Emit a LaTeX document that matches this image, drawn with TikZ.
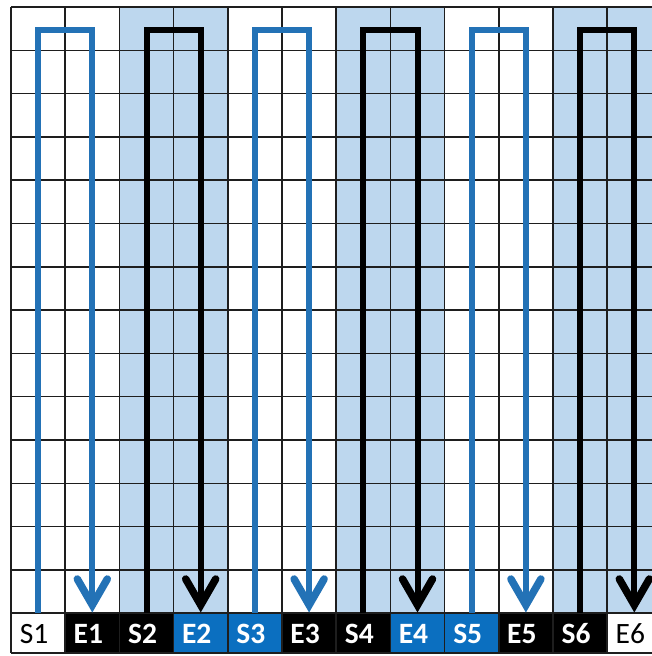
\documentclass[tikz,border=0pt]{standalone}
\usepackage{fontspec}
\setmainfont{Carlito}
\definecolor{arrblue}{HTML}{2372B6}
\definecolor{cellblue}{HTML}{0B6FC0}
\definecolor{shadeblue}{HTML}{BDD7EE}
\definecolor{gridc}{HTML}{1E1E1E}
\begin{document}
\begin{tikzpicture}[x=1pt,y=-1pt,
  gridline/.style={draw=gridc,line width=1.5},
  pathline/.style={line width=6,line join=miter},
  headline/.style={line width=7.5,line cap=round,line join=miter},
  labeltext/.style={anchor=base,inner sep=0pt,font=\fontsize{29.5}{32}\selectfont}]
\useasboundingbox (0,0) rectangle (652,656);
\clip (0,0) rectangle (652,656);
\fill[white] (0,0) rectangle (652,656);
% shaded column pairs
\foreach \c in {2,6,10}
  \fill[shadeblue] ({11+54.2*\c},7) rectangle ({11+54.2*(\c+2)},613);
% label row cells
\foreach \i/\bg in {0/white,1/black,2/black,3/cellblue,4/cellblue,5/black,6/black,7/cellblue,8/cellblue,9/black,10/black,11/white}
  \fill[\bg] ({11+54.2*\i},613) rectangle ({11+54.2*(\i+1)},653);
% grid
\foreach \i in {0,...,12}
  \draw[gridline] ({11+54.2*\i},7) -- ({11+54.2*\i},653);
\foreach \j in {0,...,14}
  \draw[gridline] (11,{7+43.3*\j}) -- (661,{7+43.3*\j});
\draw[gridline] (11,653) -- (661,653);
% labels
\foreach \i/\t/\fg/\w in {0/S1/black/\mdseries,1/E1/white/\bfseries,2/S2/white/\bfseries,3/E2/white/\bfseries,4/S3/white/\bfseries,5/E3/white/\bfseries,6/S4/white/\bfseries,7/E4/white/\bfseries,8/S5/white/\bfseries,9/E5/white/\bfseries,10/S6/white/\bfseries,11/E6/black/\mdseries}
  \node[labeltext,text=\fg] (lab\i) at ({11+54.2*\i+27.1-4},643) {\w\t};
% arrows
\foreach \k/\col in {0/arrblue,1/black,2/arrblue,3/black,4/arrblue,5/black}{
  \coordinate (s\k) at ({11+54.2*(2*\k)+27.1},613);
  \coordinate (c\k) at ({11+54.2*(2*\k+1)+27.1},30);
  \coordinate (t\k) at ({11+54.2*(2*\k+1)+27.1},605);
  \draw[pathline,draw=\col] (s\k) |- (c\k) -- (t\k);
  \draw[headline,draw=\col] ([shift={(-15,-26)}]t\k) -- (t\k) -- ([shift={(15,-26)}]t\k);
}
\end{tikzpicture}
\end{document}
